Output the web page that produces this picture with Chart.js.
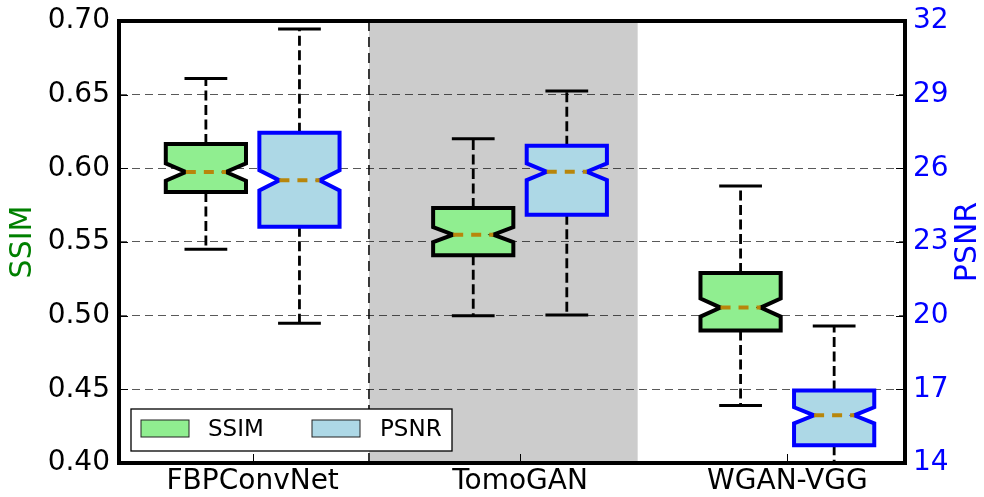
<!DOCTYPE html>
<html>
<head>
<meta charset="utf-8">
<script src="https://cdn.jsdelivr.net/npm/chart.js@4.4.1/dist/chart.umd.min.js"></script>
<style>
  html, body { margin: 0; padding: 0; background: #fff; }
  #wrap { width: 984px; height: 497px; }
</style>
</head>
<body>
<div id="wrap"><canvas id="boxChart" width="984" height="497"></canvas></div>
<script>
const categories = ['FBPConvNet', 'TomoGAN', 'WGAN-VGG'];

// SSIM box statistics, one value per method
const ssimLowerWhisker = [0.545, 0.500, 0.439];
const ssimQ1 = [0.584, 0.541, 0.490];
const ssimMedian = [0.5975, 0.555, 0.5055];
const ssimQ3 = [0.6165, 0.573, 0.529];
const ssimUpperWhisker = [0.661, 0.620, 0.588];
const ssimNotchLow = [0.5916, 0.5499, 0.4994];
const ssimNotchHigh = [0.6034, 0.5601, 0.5116];

// PSNR box statistics, one value per method
const psnrLowerWhisker = [19.69, 20.03, 13.2];
const psnrQ1 = [23.62, 24.11, 14.72];
const psnrMedian = [25.51, 25.86, 15.94];
const psnrQ3 = [27.45, 26.92, 16.95];
const psnrUpperWhisker = [31.67, 29.15, 19.58];
const psnrNotchLow = [25.10, 25.52, 15.61];
const psnrNotchHigh = [25.92, 26.20, 16.27];

const ssimTicks = [0.40, 0.45, 0.50, 0.55, 0.60, 0.65, 0.70];
const psnrTicks = [14, 17, 20, 23, 26, 29, 32];

const series = [
    { name: 'SSIM', axis: 'ySSIM', shift: -0.175, fill: '#90ee90', edge: '#000000',
      lo: ssimLowerWhisker, q1: ssimQ1, med: ssimMedian, q3: ssimQ3, hi: ssimUpperWhisker,
      nLo: ssimNotchLow, nHi: ssimNotchHigh },
    { name: 'PSNR', axis: 'yPSNR', shift: 0.175, fill: '#add8e6', edge: '#0000ff',
      lo: psnrLowerWhisker, q1: psnrQ1, med: psnrMedian, q3: psnrQ3, hi: psnrUpperWhisker,
      nLo: psnrNotchLow, nHi: psnrNotchHigh }
];

const boxWidth = 0.30;
const capWidth = 0.16;
const FONT = 'DejaVu Sans';

Chart.defaults.font.family = FONT;
Chart.defaults.color = '#000';

const line = (ctx, x1, y1, x2, y2) => {
    ctx.beginPath();
    ctx.moveTo(x1, y1);
    ctx.lineTo(x2, y2);
    ctx.stroke();
};

// keep the plot frame where the layout padding puts it
const noOverflow = (width) => (s) => {
    s.width = width;
    s.paddingTop = 0;
    s.paddingBottom = 0;
};

const boxPlugin = {
    id: 'notchedBoxes',
    beforeDraw(chart) {
        const { ctx, chartArea: a, scales: { x } } = chart;
        ctx.save();
        ctx.fillStyle = '#fff';
        ctx.fillRect(0, 0, chart.width, chart.height);
        // shaded band behind the middle method
        const g0 = x.getPixelForValue(1.435);
        const g1 = x.getPixelForValue(2.44);
        ctx.fillStyle = '#cccccc';
        ctx.fillRect(g0, a.top, g1 - g0, a.bottom - a.top);
        ctx.restore();
    },
    afterDatasetsDraw(chart) {
        const { ctx, chartArea: a, scales } = chart;
        const x = scales.x;
        ctx.save();
        ctx.beginPath();
        ctx.rect(a.left, a.top, a.right - a.left, a.bottom - a.top);
        ctx.clip();

        // dashed separator on the left edge of the band
        ctx.strokeStyle = '#000';
        ctx.lineWidth = 1.5;
        ctx.setLineDash([10, 6]);
        const sx = x.getPixelForValue(1.435);
        line(ctx, sx, a.top, sx, a.bottom);

        series.forEach(s => {
            const y = scales[s.axis];
            categories.forEach((c, i) => {
                const pos = i + 1 + s.shift;
                const cx = x.getPixelForValue(pos);
                const l = x.getPixelForValue(pos - boxWidth / 2);
                const r = x.getPixelForValue(pos + boxWidth / 2);
                const inset = (r - l) / 4;
                const cl = x.getPixelForValue(pos - capWidth / 2);
                const cr = x.getPixelForValue(pos + capWidth / 2);
                const yLo = y.getPixelForValue(s.lo[i]);
                const yQ1 = y.getPixelForValue(s.q1[i]);
                const yMed = y.getPixelForValue(s.med[i]);
                const yQ3 = y.getPixelForValue(s.q3[i]);
                const yHi = y.getPixelForValue(s.hi[i]);
                const yNLo = y.getPixelForValue(s.nLo[i]);
                const yNHi = y.getPixelForValue(s.nHi[i]);

                // whiskers
                ctx.strokeStyle = '#000';
                ctx.lineWidth = 2.8;
                ctx.lineCap = 'butt';
                ctx.setLineDash([10, 4.5]);
                line(ctx, cx, yQ1, cx, yLo);
                line(ctx, cx, yQ3, cx, yHi);

                // caps
                ctx.setLineDash([]);
                ctx.lineWidth = 3;
                line(ctx, cl, yLo, cr, yLo);
                line(ctx, cl, yHi, cr, yHi);

                // notched box
                ctx.beginPath();
                ctx.moveTo(l, yQ1);
                ctx.lineTo(r, yQ1);
                ctx.lineTo(r, yNLo);
                ctx.lineTo(r - inset, yMed);
                ctx.lineTo(r, yNHi);
                ctx.lineTo(r, yQ3);
                ctx.lineTo(l, yQ3);
                ctx.lineTo(l, yNHi);
                ctx.lineTo(l + inset, yMed);
                ctx.lineTo(l, yNLo);
                ctx.closePath();
                ctx.fillStyle = s.fill;
                ctx.fill();
                ctx.lineJoin = 'miter';
                ctx.miterLimit = 10;
                ctx.lineWidth = 4;
                ctx.strokeStyle = s.edge;
                ctx.stroke();

                // median
                ctx.strokeStyle = '#b8860b';
                ctx.lineWidth = 4;
                ctx.setLineDash([10, 8]);
                line(ctx, l + inset, yMed, r - inset, yMed);
                ctx.setLineDash([]);
            });
        });
        ctx.restore();
    },
    afterDraw(chart) {
        const { ctx, chartArea: a, scales } = chart;
        ctx.save();

        // inward tick marks
        ctx.strokeStyle = '#000';
        ctx.lineWidth = 1;
        ssimTicks.forEach(v => {
            const py = Math.round(scales.ySSIM.getPixelForValue(v)) + 0.5;
            line(ctx, a.left, py, a.left + 9, py);
        });
        psnrTicks.forEach(v => {
            const py = Math.round(scales.yPSNR.getPixelForValue(v)) + 0.5;
            line(ctx, a.right - 9, py, a.right, py);
        });
        categories.forEach((c, i) => {
            const px = Math.round(scales.x.getPixelForValue(i + 1)) + 0.5;
            line(ctx, px, a.bottom - 9, px, a.bottom);
        });

        // frame
        ctx.lineWidth = 4;
        ctx.strokeRect(a.left, a.top, a.right - a.left, a.bottom - a.top);

        // axis titles
        const midY = (a.top + a.bottom) / 2;
        ctx.font = `30px "${FONT}"`;
        ctx.textAlign = 'center';
        ctx.textBaseline = 'middle';
        ctx.save();
        ctx.translate(23, midY);
        ctx.rotate(-Math.PI / 2);
        ctx.fillStyle = '#008000';
        ctx.fillText('SSIM', 0, 0);
        ctx.restore();
        ctx.save();
        ctx.translate(968, midY);
        ctx.rotate(-Math.PI / 2);
        ctx.fillStyle = '#0000ff';
        ctx.fillText('PSNR', 0, 0);
        ctx.restore();

        // legend
        const lx = a.left + 12, ly = a.bottom - 54, lw = 321, lh = 42;
        ctx.fillStyle = '#fff';
        ctx.fillRect(lx, ly, lw, lh);
        ctx.lineWidth = 1.3;
        ctx.strokeStyle = '#000';
        ctx.strokeRect(lx, ly, lw, lh);
        ctx.font = `23px "${FONT}"`;
        ctx.textAlign = 'left';
        ctx.textBaseline = 'middle';
        [[10, 77], [181, 249]].forEach(([px, tx], k) => {
            const s = series[k];
            ctx.fillStyle = s.fill;
            ctx.fillRect(lx + px, ly + 11, 48, 17);
            ctx.lineWidth = 1;
            ctx.strokeStyle = '#222';
            ctx.strokeRect(lx + px, ly + 11, 48, 17);
            ctx.fillStyle = '#000';
            ctx.fillText(s.name, lx + tx, ly + 21);
        });
        ctx.restore();
    }
};

new Chart(document.getElementById('boxChart').getContext('2d'), {
    type: 'scatter',
    data: {
        datasets: series.map(s => ({
            label: s.name,
            data: [],
            yAxisID: s.axis,
            backgroundColor: s.fill,
            borderColor: s.edge
        }))
    },
    options: {
        responsive: false,
        animation: false,
        events: [],
        layout: { padding: { top: 21, left: 0, right: 0, bottom: 0 } },
        plugins: {
            legend: { display: false },
            tooltip: { enabled: false }
        },
        scales: {
            x: {
                type: 'linear',
                min: 0.5,
                max: 3.44,
                afterBuildTicks: s => { s.ticks = categories.map((c, i) => ({ value: i + 1 })); },
                afterFit: s => { s.height = 34; s.paddingLeft = 0; s.paddingRight = 0; },
                ticks: {
                    callback: (v, i) => categories[i],
                    font: { size: 28 },
                    color: '#000',
                    padding: 2,
                    maxRotation: 0,
                    autoSkip: false
                },
                grid: { display: false, drawTicks: false },
                border: { display: false }
            },
            ySSIM: {
                type: 'linear',
                position: 'left',
                min: 0.40,
                max: 0.70,
                afterBuildTicks: s => { s.ticks = ssimTicks.map(v => ({ value: v })); },
                afterFit: noOverflow(119),
                ticks: {
                    callback: v => v.toFixed(2),
                    font: { size: 28 },
                    color: '#000',
                    padding: 9
                },
                grid: { color: 'rgba(0,0,0,0.65)', lineWidth: 1, drawTicks: false },
                border: { display: false, dash: [8, 5] }
            },
            yPSNR: {
                type: 'linear',
                position: 'right',
                min: 14,
                max: 32,
                afterBuildTicks: s => { s.ticks = psnrTicks.map(v => ({ value: v })); },
                afterFit: noOverflow(79),
                ticks: {
                    callback: v => String(v),
                    font: { size: 28 },
                    color: '#0000ff',
                    padding: 8
                },
                grid: { display: false, drawTicks: false },
                border: { display: false }
            }
        }
    },
    plugins: [boxPlugin]
});
</script>
</body>
</html>
